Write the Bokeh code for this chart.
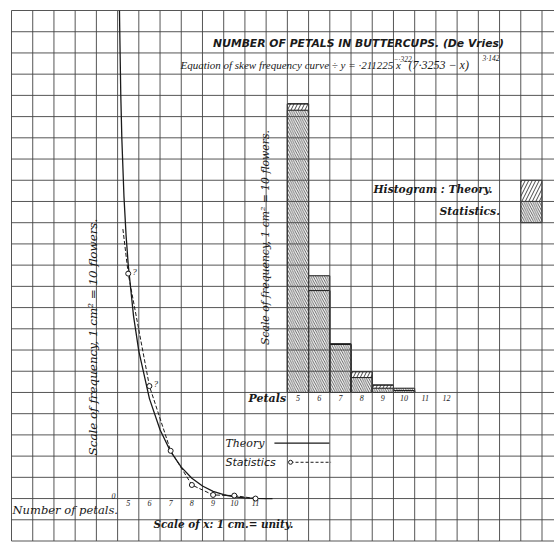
import numpy as np
from bokeh.plotting import figure
from bokeh.models import Range1d
from bokeh.core.properties import value
from bokeh.embed import file_html
from bokeh.resources import INLINE

# ---------------- data ----------------
# Histogram (number of flowers)
hist_petals = [5, 6, 7, 8, 9, 10]
hist_statistics = [133, 55, 23, 7, 2, 2]
hist_theory = [136, 48, 22.6, 9.8, 3.5, 0.9]
hist_tick_petals = [5, 6, 7, 8, 9, 10, 11, 12]
hist_tick_labels = ["5", "6", "7", "8", "9", "10", "11", "12"]

# Theory curve: x = cm from origin (1 cm = unity), y = frequency (10 per cm)
curve_x = [0.088, 0.1, 0.15, 0.2, 0.3, 0.4, 0.5, 0.75, 1.0, 1.5, 2.0, 2.5,
           3.0, 3.5, 4.0, 4.5, 5.0, 5.5, 6.0, 6.5, 7.0, 7.3]
curve_y = [230, 221.5, 190.2, 169.6, 142.3, 124.0, 110.3, 86.1, 69.5, 47.1,
           32.4, 22.1, 14.8, 9.6, 5.9, 3.4, 1.8, 0.8, 0.3, 0.06, 0.0, 0.0]

# Statistics points on the curve diagram
stat_petals = [5, 6, 7, 8, 9, 10, 11]
stat_freq = [106, 53, 22.5, 6.4, 1.7, 1.4, 0]
stat_dash_petals = [4.75, 5, 6, 7, 8, 9, 10, 11]
stat_dash_freq = [127, 106, 53, 22.5, 6.4, 1.7, 1.4, 0]
doubtful_petals = [5, 6]
doubtful_freq = [106, 53]
curve_tick_petals = [5, 6, 7, 8, 9, 10, 11]
curve_tick_labels = ["5", "6", "7", "8", "9", "10", "11"]

# ---------------- layout ----------------
CM = 21.22              # px per grid square
GX0, GY0 = 11.0, 540.5  # page position of grid corner (bottom-left)
W, H = 554, 544
N = 25

x0 = (0 - GX0) / CM
x1 = x0 + W / CM
y1 = (GY0 - 0) / CM
y0 = y1 - H / CM

p = figure(width=W, height=H, x_range=Range1d(x0, x1), y_range=Range1d(y0, y1),
           output_backend="svg", toolbar_location=None, min_border=0,
           x_axis_location=None, y_axis_location=None,
           outline_line_color=None, background_fill_color="white")
p.grid.visible = False

# curve diagram: origin at grid (5, 2); histogram: baseline at grid row 7
p.extra_x_ranges = {
    "cx": Range1d(x0 - 5, x1 - 5),
    "cp": Range1d(x0 - 0.5, x1 - 0.5),
    "hx": Range1d(x0 - 8.5, x1 - 8.5),
}
p.extra_y_ranges = {
    "cy": Range1d((y0 - 2) * 10, (y1 - 2) * 10),
    "hy": Range1d((y0 - 7) * 10, (y1 - 7) * 10),
}

SERIF = value("Liberation Serif")
DSERIF = value("DejaVu Serif")
SANS = value("DejaVu Sans")
INK = "#1a1a1a"

# ---- histogram bars ----
p.vbar(x=hist_petals, width=1, bottom=0, top=hist_theory, x_range_name="hx", y_range_name="hy",
       fill_color="white", hatch_pattern="/", hatch_scale=7, hatch_weight=0.8,
       hatch_color=INK, line_color=INK, line_width=1)
p.vbar(x=hist_petals, width=1, bottom=0, top=hist_statistics, x_range_name="hx", y_range_name="hy",
       fill_color="white", hatch_pattern="\\", hatch_scale=4.5, hatch_weight=0.7,
       hatch_color=INK, line_color=INK, line_width=1)
p.vbar(x=hist_petals, width=1, bottom=0, top=hist_theory, x_range_name="hx", y_range_name="hy",
       fill_color=None, line_color=INK, line_width=1)

# legend swatches for histogram
p.quad(left=[24], right=[25], bottom=[16], top=[17], fill_color="white",
       hatch_pattern="/", hatch_scale=7, hatch_weight=0.8, hatch_color=INK, line_color=INK)
p.quad(left=[24], right=[25], bottom=[15], top=[16], fill_color="white",
       hatch_pattern="\\", hatch_scale=4.5, hatch_weight=0.7, hatch_color=INK, line_color=INK)

# ---- squared paper ----
ticks = list(range(N + 1))
p.segment(x0=ticks, y0=[0] * (N + 1), x1=ticks, y1=[N] * (N + 1),
          line_color="#444444", line_width=1, line_alpha=0.9)
p.segment(x0=[0] * (N + 1), y0=ticks, x1=[x1] * (N + 1), y1=ticks,
          line_color="#444444", line_width=1, line_alpha=0.9)

# ---- curve diagram ----
p.line(curve_x, curve_y, x_range_name="cx", y_range_name="cy", line_color=INK, line_width=1.3)
p.line(stat_dash_petals, stat_dash_freq, x_range_name="cp", y_range_name="cy",
       line_color=INK, line_width=1, line_dash="4 2")
p.scatter(stat_petals, stat_freq, x_range_name="cp", y_range_name="cy", marker="circle",
          size=5, fill_color="white", line_color=INK, line_width=1)
p.text(doubtful_petals, doubtful_freq, text=["?", "?"], x_range_name="cp", y_range_name="cy",
       x_offset=4, y_offset=-2, text_font=SERIF, text_font_style="italic",
       text_font_size="9px", text_baseline="middle", text_color=INK)
p.text(curve_tick_petals, [-2.1] * len(curve_tick_petals), text=curve_tick_labels,
       x_range_name="cp", y_range_name="cy", text_font=SERIF, text_font_style="italic",
       text_font_size="8px", text_align="center", text_baseline="middle", text_color=INK)
p.text([-0.19], [1.4], text=["0"], x_range_name="cx", y_range_name="cy", text_font=SERIF,
       text_font_style="italic", text_font_size="8px", text_align="center",
       text_baseline="middle", text_color=INK)

# curve legend
p.line([12.39, 14.98], [4.61, 4.61], line_color=INK, line_width=1.2)
p.line([13.15, 15.06], [3.71, 3.71], line_color=INK, line_width=1, line_dash="3 2")
p.scatter([13.15], [3.71], marker="circle", size=4, fill_color="white", line_color=INK)

# histogram tick labels
p.text(hist_tick_petals, [-2.8] * len(hist_tick_petals), text=hist_tick_labels,
       x_range_name="hx", y_range_name="hy", text_font=SERIF, text_font_style="italic",
       text_font_size="8px", text_align="center", text_baseline="middle", text_color=INK)

def label(x, y, t, size="11px", style="italic", font=DSERIF, align="left", angle=0.0):
    p.text([x], [y], text=[t], text_font=font, text_font_style=style, text_font_size=size,
           text_align=align, text_baseline="middle", angle=angle, text_color=INK)

label(9.5, 23.44, "NUMBER OF PETALS IN BUTTERCUPS. (De Vries)", size="10.8px",
      style="bold italic", font=SANS)
label(7.96, 22.41, "Equation  of  skew  frequency  curve ÷ y = ·211225 x", size="11px", font=SERIF)
label(18.0, 22.68, "−·322", size="7.5px", font=SERIF)
label(18.71, 22.41, "(7·3253 − x)", size="12px", font=SERIF)
label(22.2, 22.72, "3·142", size="7.5px", font=SERIF)

label(17.06, 16.56, "Histogram : Theory.", size="10.7px", style="bold italic")
label(20.17, 15.54, "Statistics.", size="10.8px", style="bold italic")
label(11.17, 6.72, "Petals", size="11px", style="bold italic")
label(10.08, 4.61, "Theory", size="11px")
label(10.08, 3.71, "Statistics", size="11px", font=SANS)
label(0.05, 1.44, "Number  of  petals.", size="11.5px")
label(6.69, 0.82, "Scale  of  x: 1 cm.= unity.", size="10.4px", style="bold italic")
label(11.97, 14.30, "Scale of frequency, 1 cm² = 10 flowers.", size="10.8px",
      align="center", angle=np.pi / 2)
label(3.86, 9.61, "Scale of frequency, 1 cm² = 10 flowers.", size="11.9px",
      align="center", angle=np.pi / 2)

open("out.html", "w").write(file_html(p, INLINE))
